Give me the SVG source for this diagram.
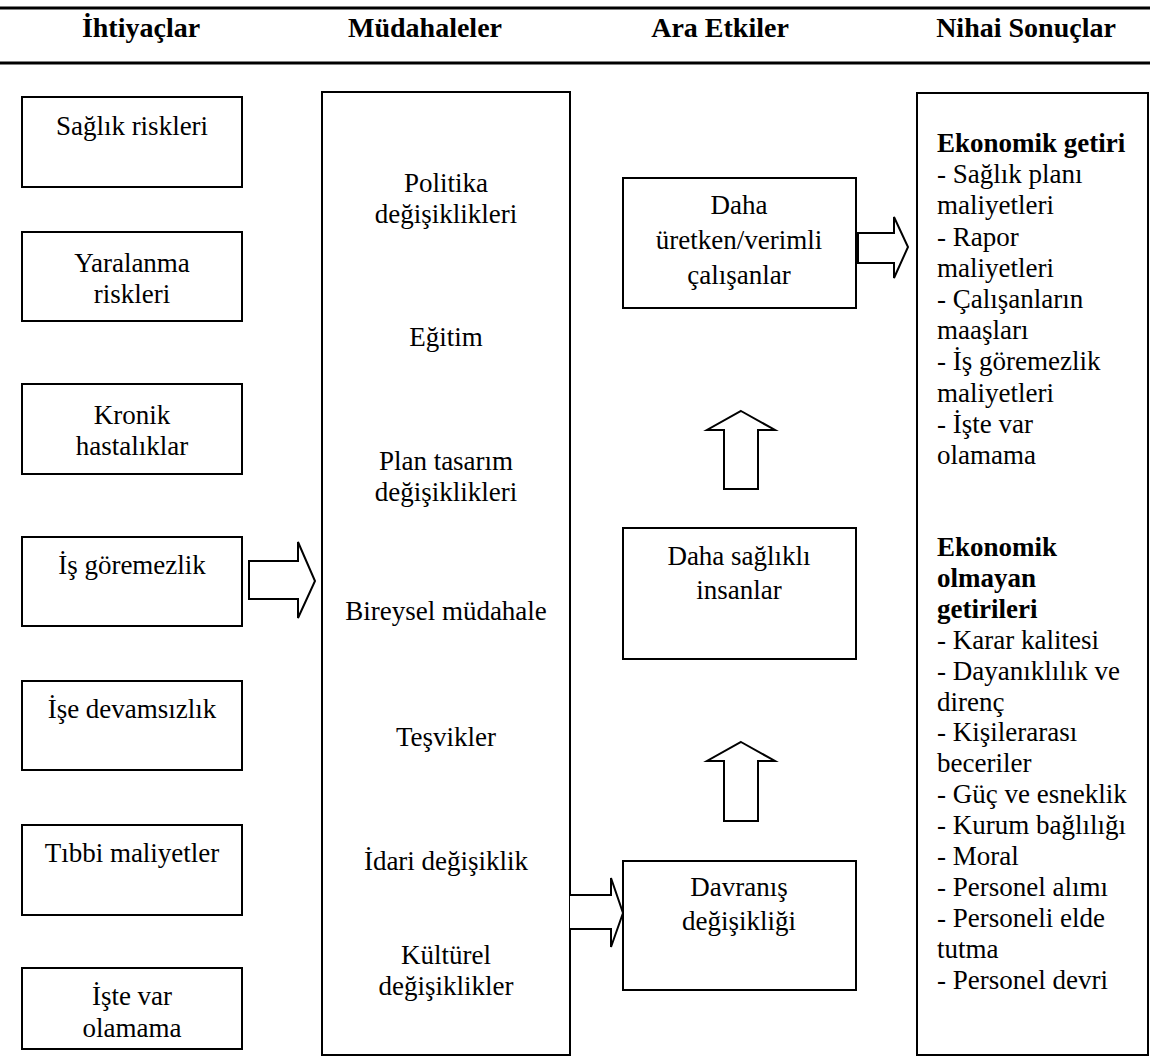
<svg xmlns="http://www.w3.org/2000/svg" width="1150" height="1059" viewBox="0 0 1150 1059">
  <style>
    .box { fill: #fff; stroke: #000; stroke-width: 2; }
    .arrow { fill: #fff; stroke: #000; stroke-width: 2; stroke-linejoin: miter; }
    .rule { stroke: #000; stroke-width: 3; }
    text { font-family: "Liberation Serif", "Times New Roman", serif; font-size: 27px; fill: #000; }
    .c { text-anchor: middle; }
    .head { font-size: 28px; font-weight: bold; text-anchor: middle; }
    .b { font-weight: bold; }
  </style>

  <!-- header band -->
  <g id="header">
    <line class="rule" x1="0" y1="8" x2="1150" y2="8"/>
    <line class="rule" x1="0" y1="63" x2="1150" y2="63"/>
    <text class="head" x="141" y="37">İhtiyaçlar</text>
    <text class="head" x="425" y="37">Müdahaleler</text>
    <text class="head" x="720" y="37">Ara Etkiler</text>
    <text class="head" x="1026" y="37">Nihai Sonuçlar</text>
  </g>

  <!-- needs column -->
  <g id="need-saglik">
    <rect class="box" x="22" y="97" width="220" height="90"/>
    <text class="c" x="132" y="135">Sağlık riskleri</text>
  </g>
  <g id="need-yaralanma">
    <rect class="box" x="22" y="232" width="220" height="89"/>
    <text class="c" x="132" y="272">Yaralanma</text>
    <text class="c" x="132" y="303">riskleri</text>
  </g>
  <g id="need-kronik">
    <rect class="box" x="22" y="384" width="220" height="90"/>
    <text class="c" x="132" y="424">Kronik</text>
    <text class="c" x="132" y="455">hastalıklar</text>
  </g>
  <g id="need-isgoremezlik">
    <rect class="box" x="22" y="537" width="220" height="89"/>
    <text class="c" x="132" y="574">İş göremezlik</text>
  </g>
  <g id="need-devamsizlik">
    <rect class="box" x="22" y="681" width="220" height="89"/>
    <text class="c" x="132" y="718">İşe devamsızlık</text>
  </g>
  <g id="need-tibbi">
    <rect class="box" x="22" y="825" width="220" height="90"/>
    <text class="c" x="132" y="862">Tıbbi maliyetler</text>
  </g>
  <g id="need-istevar">
    <rect class="box" x="22" y="968" width="220" height="81"/>
    <text class="c" x="132" y="1005">İşte var</text>
    <text class="c" x="132" y="1037">olamama</text>
  </g>

  <!-- interventions column -->
  <g id="interventions">
    <rect class="box" x="322" y="92" width="248" height="963"/>
    <text class="c" x="446" y="192">Politika</text>
    <text class="c" x="446" y="223">değişiklikleri</text>
    <text class="c" x="446" y="346">Eğitim</text>
    <text class="c" x="446" y="470">Plan tasarım</text>
    <text class="c" x="446" y="501">değişiklikleri</text>
    <text class="c" x="446" y="620">Bireysel müdahale</text>
    <text class="c" x="446" y="746">Teşvikler</text>
    <text class="c" x="446" y="870">İdari değişiklik</text>
    <text class="c" x="446" y="964">Kültürel</text>
    <text class="c" x="446" y="995">değişiklikler</text>
  </g>

  <!-- intermediate effects column -->
  <g id="effect-verimli">
    <rect class="box" x="623" y="178" width="233" height="130"/>
    <text class="c" x="739" y="214">Daha</text>
    <text class="c" x="739" y="249">üretken/verimli</text>
    <text class="c" x="739" y="284">çalışanlar</text>
  </g>
  <g id="effect-saglikli">
    <rect class="box" x="623" y="528" width="233" height="131"/>
    <text class="c" x="739" y="565">Daha sağlıklı</text>
    <text class="c" x="739" y="599">insanlar</text>
  </g>
  <g id="effect-davranis">
    <rect class="box" x="623" y="861" width="233" height="129"/>
    <text class="c" x="739" y="896">Davranış</text>
    <text class="c" x="739" y="930">değişikliği</text>
  </g>

  <!-- final outcomes column -->
  <g id="outcomes">
    <rect class="box" x="917" y="93" width="231" height="962"/>
    <text x="937" y="152" class="b">Ekonomik getiri</text>
    <text x="937" y="183">- Sağlık planı</text>
    <text x="937" y="214">maliyetleri</text>
    <text x="937" y="246">- Rapor</text>
    <text x="937" y="277">maliyetleri</text>
    <text x="937" y="308">- Çalışanların</text>
    <text x="937" y="339">maaşları</text>
    <text x="937" y="370">- İş göremezlik</text>
    <text x="937" y="402">maliyetleri</text>
    <text x="937" y="433">- İşte var</text>
    <text x="937" y="464">olamama</text>
    <text x="937" y="556" class="b">Ekonomik</text>
    <text x="937" y="587" class="b">olmayan</text>
    <text x="937" y="618" class="b">getirileri</text>
    <text x="937" y="649">- Karar kalitesi</text>
    <text x="937" y="680">- Dayanıklılık ve</text>
    <text x="937" y="711">direnç</text>
    <text x="937" y="741">- Kişilerarası</text>
    <text x="937" y="772">beceriler</text>
    <text x="937" y="803">- Güç ve esneklik</text>
    <text x="937" y="834">- Kurum bağlılığı</text>
    <text x="937" y="865">- Moral</text>
    <text x="937" y="896">- Personel alımı</text>
    <text x="937" y="927">- Personeli elde</text>
    <text x="937" y="958">tutma</text>
    <text x="937" y="989">- Personel devri</text>
  </g>

  <!-- block arrows -->
  <g id="connectors">
    <polygon class="arrow" points="249,561 298,561 298,542 315,581 298,618 298,599 249,599"/>
    <polyline class="arrow" points="570,895 611,895 611,878 623,913 611,947 611,929 570,929"/>
    <polygon class="arrow" points="858,233 894,233 894,217 908,247 894,278 894,263 858,263"/>
    <polygon class="arrow" points="741,411 775,430 758,430 758,489 724,489 724,430 707,430"/>
    <polygon class="arrow" points="741,742 775,761 758,761 758,821 724,821 724,761 707,761"/>
  </g>
</svg>
